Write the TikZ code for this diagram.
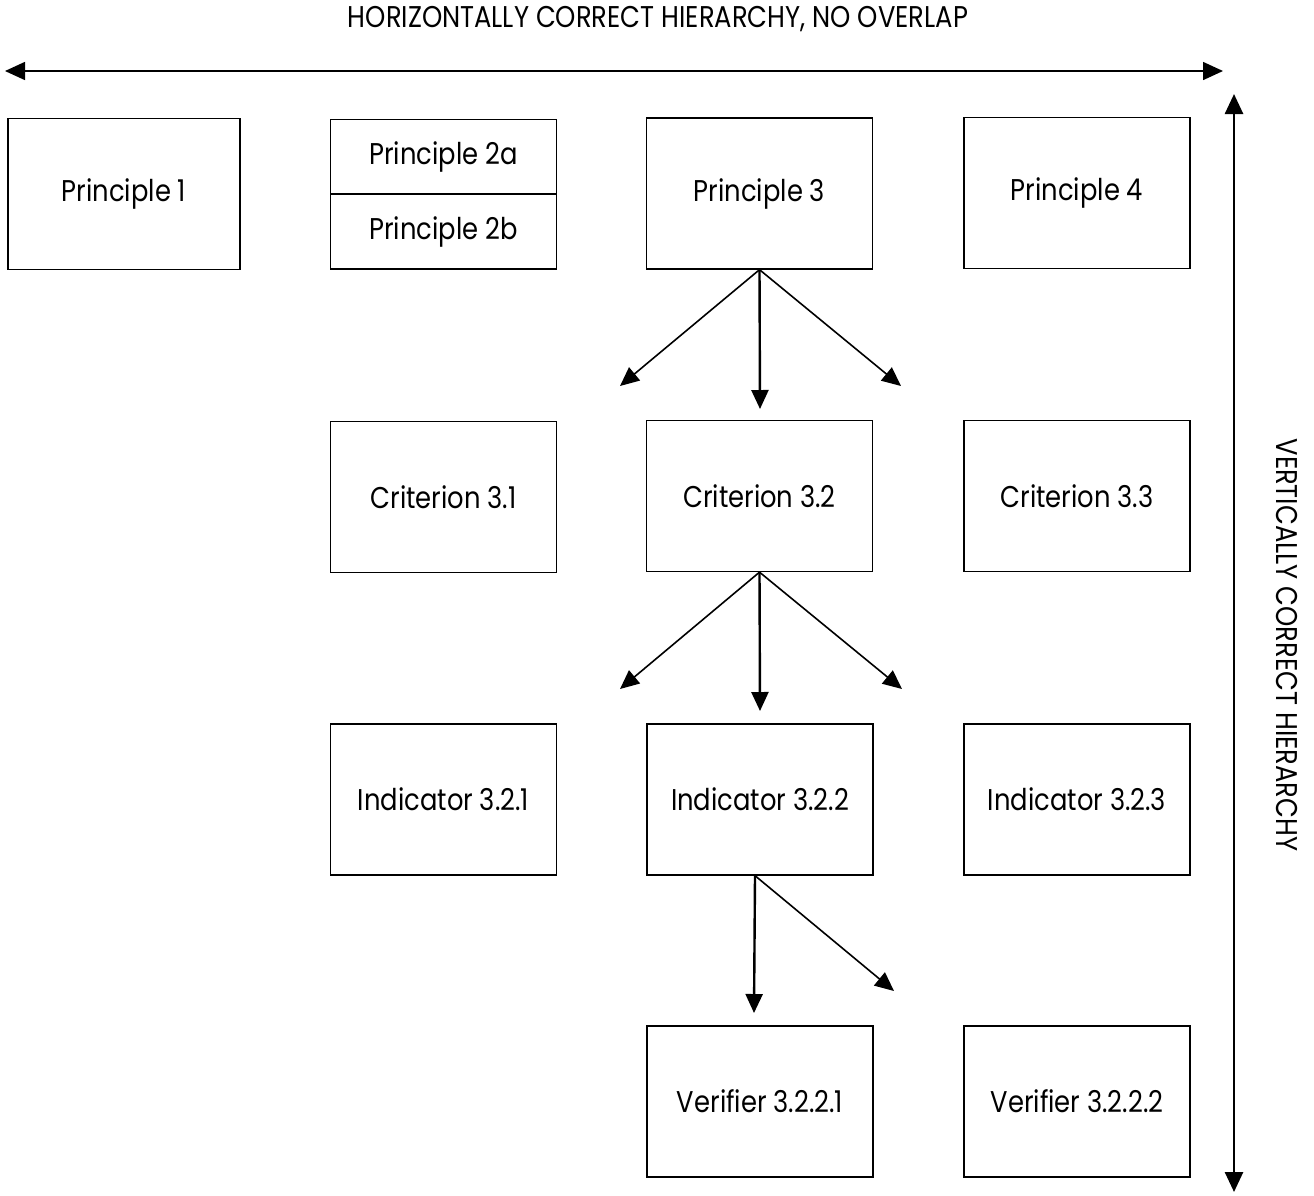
\documentclass[tikz,border=0pt]{standalone}
\usepackage{fontspec}
\setmainfont{Poppins}[FakeStretch=0.86]
\usetikzlibrary{arrows.meta}
\tikzset{
  box/.style={draw=black, line width=1.3pt, minimum width=226pt, minimum height=151pt, inner sep=0pt, font=\fontsize{30}{34}\selectfont},
  halfbox/.style={draw=black, line width=1.3pt, minimum width=226pt, minimum height=75pt, inner sep=0pt, font=\fontsize{30}{34}\selectfont},
  tip/.style={-{Triangle[length=19pt,width=17pt]}},
  thin arrow/.style={tip, line width=1.6pt},
  thick arrow/.style={tip, line width=2.4pt},
  axis/.style={{Triangle[length=20pt,width=18pt]}-{Triangle[length=20pt,width=18pt]}},
  caption/.style={font=\fontsize{30}{34}\selectfont, inner sep=0pt}
}
\begin{document}
\begin{tikzpicture}[x=1pt,y=-1pt]
\useasboundingbox (0,0) rectangle (1314,1195);
% axes
\coordinate (hl) at (5,71);
\coordinate (hr) at (1223,71);
\coordinate (vt) at (1234,94);
\coordinate (vb) at (1234,1192);
\draw[axis, line width=1.5pt] (hl) -- (hr);
\draw[axis, line width=2.6pt] (vt) -- (vb);
\node[caption] (htitle) at (658,19) {HORIZONTALLY CORRECT HIERARCHY, NO OVERLAP};
\node[caption, rotate=-90] (vtitle) at (1287,645) {VERTICALLY CORRECT HIERARCHY};
% principles
\node[box, minimum width=232pt] (p1) at (124,194) {Principle 1};
\node[halfbox] (p2a) at (443.5,157) {Principle 2a};
\node[halfbox] (p2b) at (443.5,231.5) {Principle 2b};
\node[box] (p3) at (759.5,193.5) {Principle 3};
\node[box] (p4) at (1077,193) {Principle 4};
% criteria
\node[box] (c1) at (443.5,497) {Criterion 3.1};
\node[box] (c2) at (759.5,496) {Criterion 3.2};
\node[box] (c3) at (1077,496) {Criterion 3.3};
% indicators
\node[box] (i1) at (443.5,799.5) {Indicator 3.2.1};
\node[box] (i2) at (760,799.5) {Indicator 3.2.2};
\node[box] (i3) at (1077,799.5) {Indicator 3.2.3};
% verifiers
\node[box] (v1) at (760,1101.5) {Verifier 3.2.2.1};
\node[box] (v2) at (1077,1101.5) {Verifier 3.2.2.2};
% arrow ends
\coordinate (a1) at (620,386);
\coordinate (a2) at (760,409);
\coordinate (a3) at (901,386);
\coordinate (b1) at (620,689);
\coordinate (b2) at (760,711);
\coordinate (b3) at (902,689);
\coordinate (d1) at (754,1013);
\coordinate (d2) at (894,991);
% connectors
\draw[thin arrow] (p3.south) -- (a1);
\draw[thick arrow] (p3.south) -- (a2);
\draw[thin arrow] (p3.south) -- (a3);
\draw[thin arrow] (c2.south) -- (b1);
\draw[thick arrow] (c2.south) -- (b2);
\draw[thin arrow] (c2.south) -- (b3);
\draw[thick arrow] ([xshift=-5pt]i2.south) -- (d1);
\draw[thin arrow] ([xshift=-5pt]i2.south) -- (d2);
\end{tikzpicture}
\end{document}
